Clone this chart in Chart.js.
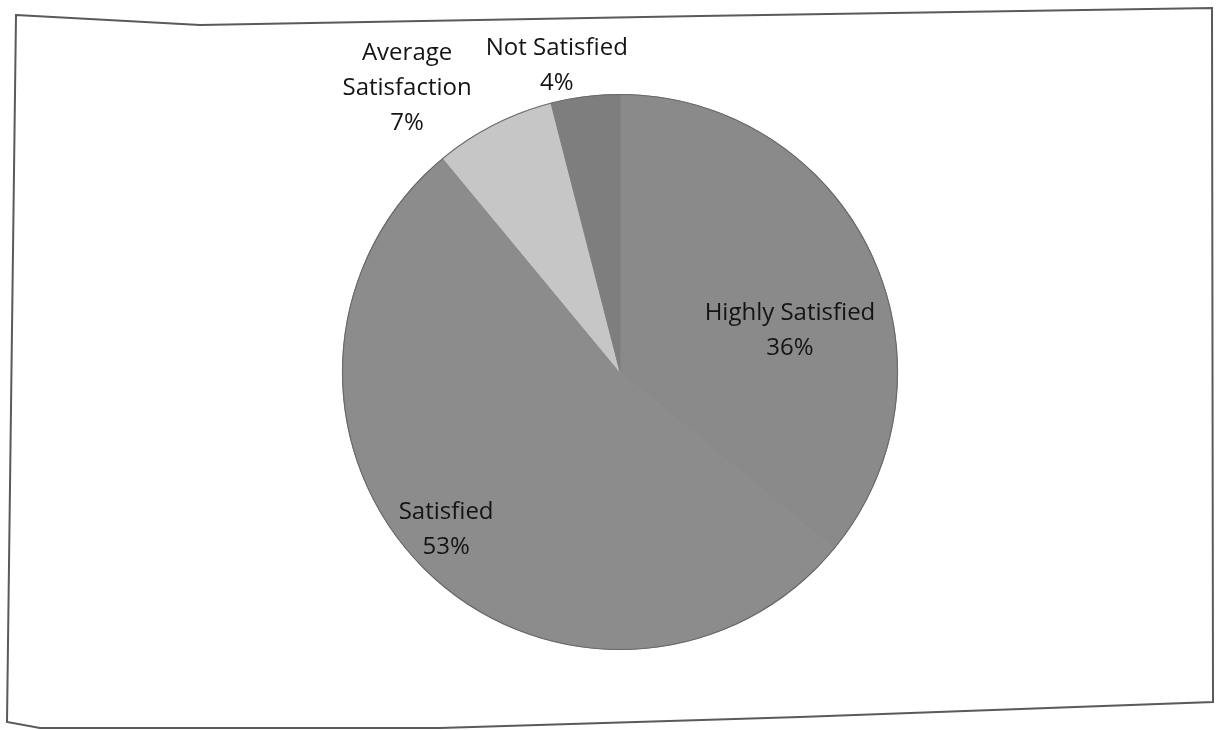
<!DOCTYPE html>
<html>
<head>
<meta charset="utf-8">
<title>Satisfaction</title>
<script src="https://cdn.jsdelivr.net/npm/chart.js@4.4.1/dist/chart.umd.min.js"></script>
<style>
  html, body { margin: 0; padding: 0; background: #ffffff; }
  #wrap { width: 1217px; height: 730px; position: relative; }
</style>
</head>
<body>
<div id="wrap"><canvas id="pie" width="1217" height="730"></canvas></div>
<script>
// Survey response shares (percent), clockwise from 12 o'clock
const categories = ['Highly Satisfied', 'Satisfied', 'Average Satisfaction', 'Not Satisfied'];
const shares = [36, 53, 7, 4];
const sliceColors = ['#8a8a8a', '#8c8c8c', '#c6c6c6', '#7e7e7e'];

// Label lines per slice (category name may wrap, then the percentage)
const labelLines = [
  ['Highly Satisfied'],
  ['Satisfied'],
  ['Average', 'Satisfaction'],
  ['Not Satisfied']
];
// Where each label sits: fraction through the slice's angle, and radius factor
const labelAngleFrac = [0.59, 0.515, 0.11, 0.19];
const labelRadiusFrac = [0.63, 0.845, 1.28, 1.127];

const pieLabels = {
  id: 'pieLabels',
  afterDatasetsDraw(chart) {
    const ctx = chart.ctx;
    const meta = chart.getDatasetMeta(0);
    ctx.save();
    ctx.font = '24px "Open Sans", sans-serif';
    ctx.fillStyle = '#141414';
    ctx.textAlign = 'center';
    ctx.textBaseline = 'middle';
    const lineH = 35;
    meta.data.forEach((arc, i) => {
      const p = arc.getProps(['x', 'y', 'startAngle', 'endAngle', 'outerRadius'], true);
      const a = p.startAngle + (p.endAngle - p.startAngle) * labelAngleFrac[i];
      const r = p.outerRadius * labelRadiusFrac[i];
      const cx = p.x + Math.cos(a) * r;
      const cy = p.y + Math.sin(a) * r;
      const lines = labelLines[i].concat([shares[i] + '%']);
      const y0 = cy - (lines.length - 1) * lineH / 2;
      lines.forEach((t, k) => ctx.fillText(t, cx, y0 + k * lineH));
    });
    ctx.restore();
  }
};

// Thin darker rim round the whole pie
const pieRim = {
  id: 'pieRim',
  afterDatasetsDraw(chart) {
    const arc = chart.getDatasetMeta(0).data[0];
    if (!arc) return;
    const p = arc.getProps(['x', 'y', 'outerRadius'], true);
    const ctx = chart.ctx;
    ctx.save();
    ctx.strokeStyle = '#6a6a6a';
    ctx.lineWidth = 1.2;
    ctx.beginPath();
    ctx.arc(p.x, p.y, p.outerRadius, 0, Math.PI * 2);
    ctx.stroke();
    ctx.restore();
  }
};

// Outer frame of the chart sheet
const sheetFrame = {
  id: 'sheetFrame',
  beforeDraw(chart) {
    const ctx = chart.ctx;
    ctx.save();
    ctx.fillStyle = '#ffffff';
    ctx.fillRect(0, 0, chart.width, chart.height);
    ctx.strokeStyle = '#5a5a5a';
    ctx.lineWidth = 2;
    ctx.beginPath();
    ctx.moveTo(16, 15);
    ctx.lineTo(200, 25);
    ctx.lineTo(700, 16);
    ctx.lineTo(1212, 8);
    ctx.lineTo(1213, 702);
    ctx.lineTo(800, 717);
    ctx.lineTo(440, 728);
    ctx.lineTo(40, 728);
    ctx.lineTo(7, 722);
    ctx.closePath();
    ctx.stroke();
    ctx.restore();
  }
};

new Chart(document.getElementById('pie'), {
  type: 'pie',
  data: {
    labels: categories,
    datasets: [{
      data: shares,
      backgroundColor: sliceColors,
      borderColor: sliceColors,
      borderWidth: 1
    }]
  },
  options: {
    responsive: false,
    animation: false,
    events: [],
    layout: { padding: { top: 94, bottom: 80, left: 270, right: 247 } },
    plugins: {
      legend: { display: false },
      tooltip: { enabled: false }
    }
  },
  plugins: [sheetFrame, pieRim, pieLabels]
});
</script>
</body>
</html>
